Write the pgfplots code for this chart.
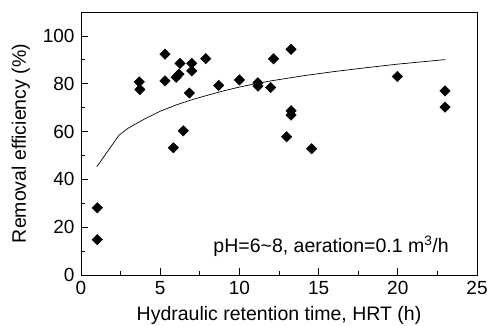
\documentclass[border=0pt]{standalone}
\usepackage{pgfplots}
\pgfplotsset{compat=1.18}
\usepackage{fontspec}
\setmainfont{Liberation Sans}
\begin{document}
\begin{tikzpicture}
\useasboundingbox (-81pt,-51pt) rectangle (406pt,275pt);
\fontsize{19}{22}\selectfont
\begin{axis}[
  at={(0pt,0pt)}, anchor=south west,
  scale only axis,
  width=396pt, height=263pt,
  xmin=0, xmax=25, ymin=0, ymax=110,
  xtick={0,5,10,15,20,25}, ytick={0,20,40,60,80,100},
  minor x tick num=1, minor y tick num=1,
  xtick pos=left, ytick pos=left,
  tick align=inside,
  major tick length=7pt, minor tick length=4pt,
  /pgf/number format/assume math mode=true,
  ticklabel style={font=\fontsize{19}{22}\selectfont},
  label style={font=\fontsize{19.5}{22}\selectfont},
  xlabel={Hydraulic retention time, HRT (h)},
  ylabel={Removal efficiency (\%)},
  xlabel style={yshift=1pt},
  axis line style={black, line width=0.8pt},
  every tick/.style={black, line width=0.8pt},
]
\addplot[only marks, mark=square*, mark size=3.7pt, every mark/.append style={rotate=45}, black] coordinates {
(3.68,80.8) (3.72,77.6) (5.30,92.4) (5.30,81.2) (6.0,82.7) (6.19,84.0)
(6.25,88.5) (6.99,88.5) (6.99,85.4) (6.84,76.1) (6.46,60.3) (5.83,53.2)
(7.87,90.5) (8.69,79.3) (10.0,81.6) (11.17,80.4) (11.17,79.0) (11.97,78.4)
(12.16,90.4) (13.26,94.4) (19.97,83.0) (22.98,77.0) (22.98,70.2)
(13.26,68.7) (13.26,66.9) (12.98,57.8) (14.56,52.8) (1.03,28.1) (1.03,14.8)
};
\addplot[black, line width=0.7pt] coordinates {
(1,45.3) (2.4,58.5) (3,61.5) (4,65.2) (5,68.5) (6,71.1) (7,73.3) (8,75.2)
(9,77.0) (10,78.6) (11,80.0) (12,81.2) (14,83.3) (16,85.1) (18,86.7)
(20,88.2) (23,90.1)
};
\node[anchor=west, inner sep=0pt, font=\fontsize{19.5}{22}\selectfont] at (axis cs:8.35,12.1) {pH=6\textasciitilde 8, aeration=0.1 m\textsuperscript{3}/h};
\end{axis}
\end{tikzpicture}
\end{document}
